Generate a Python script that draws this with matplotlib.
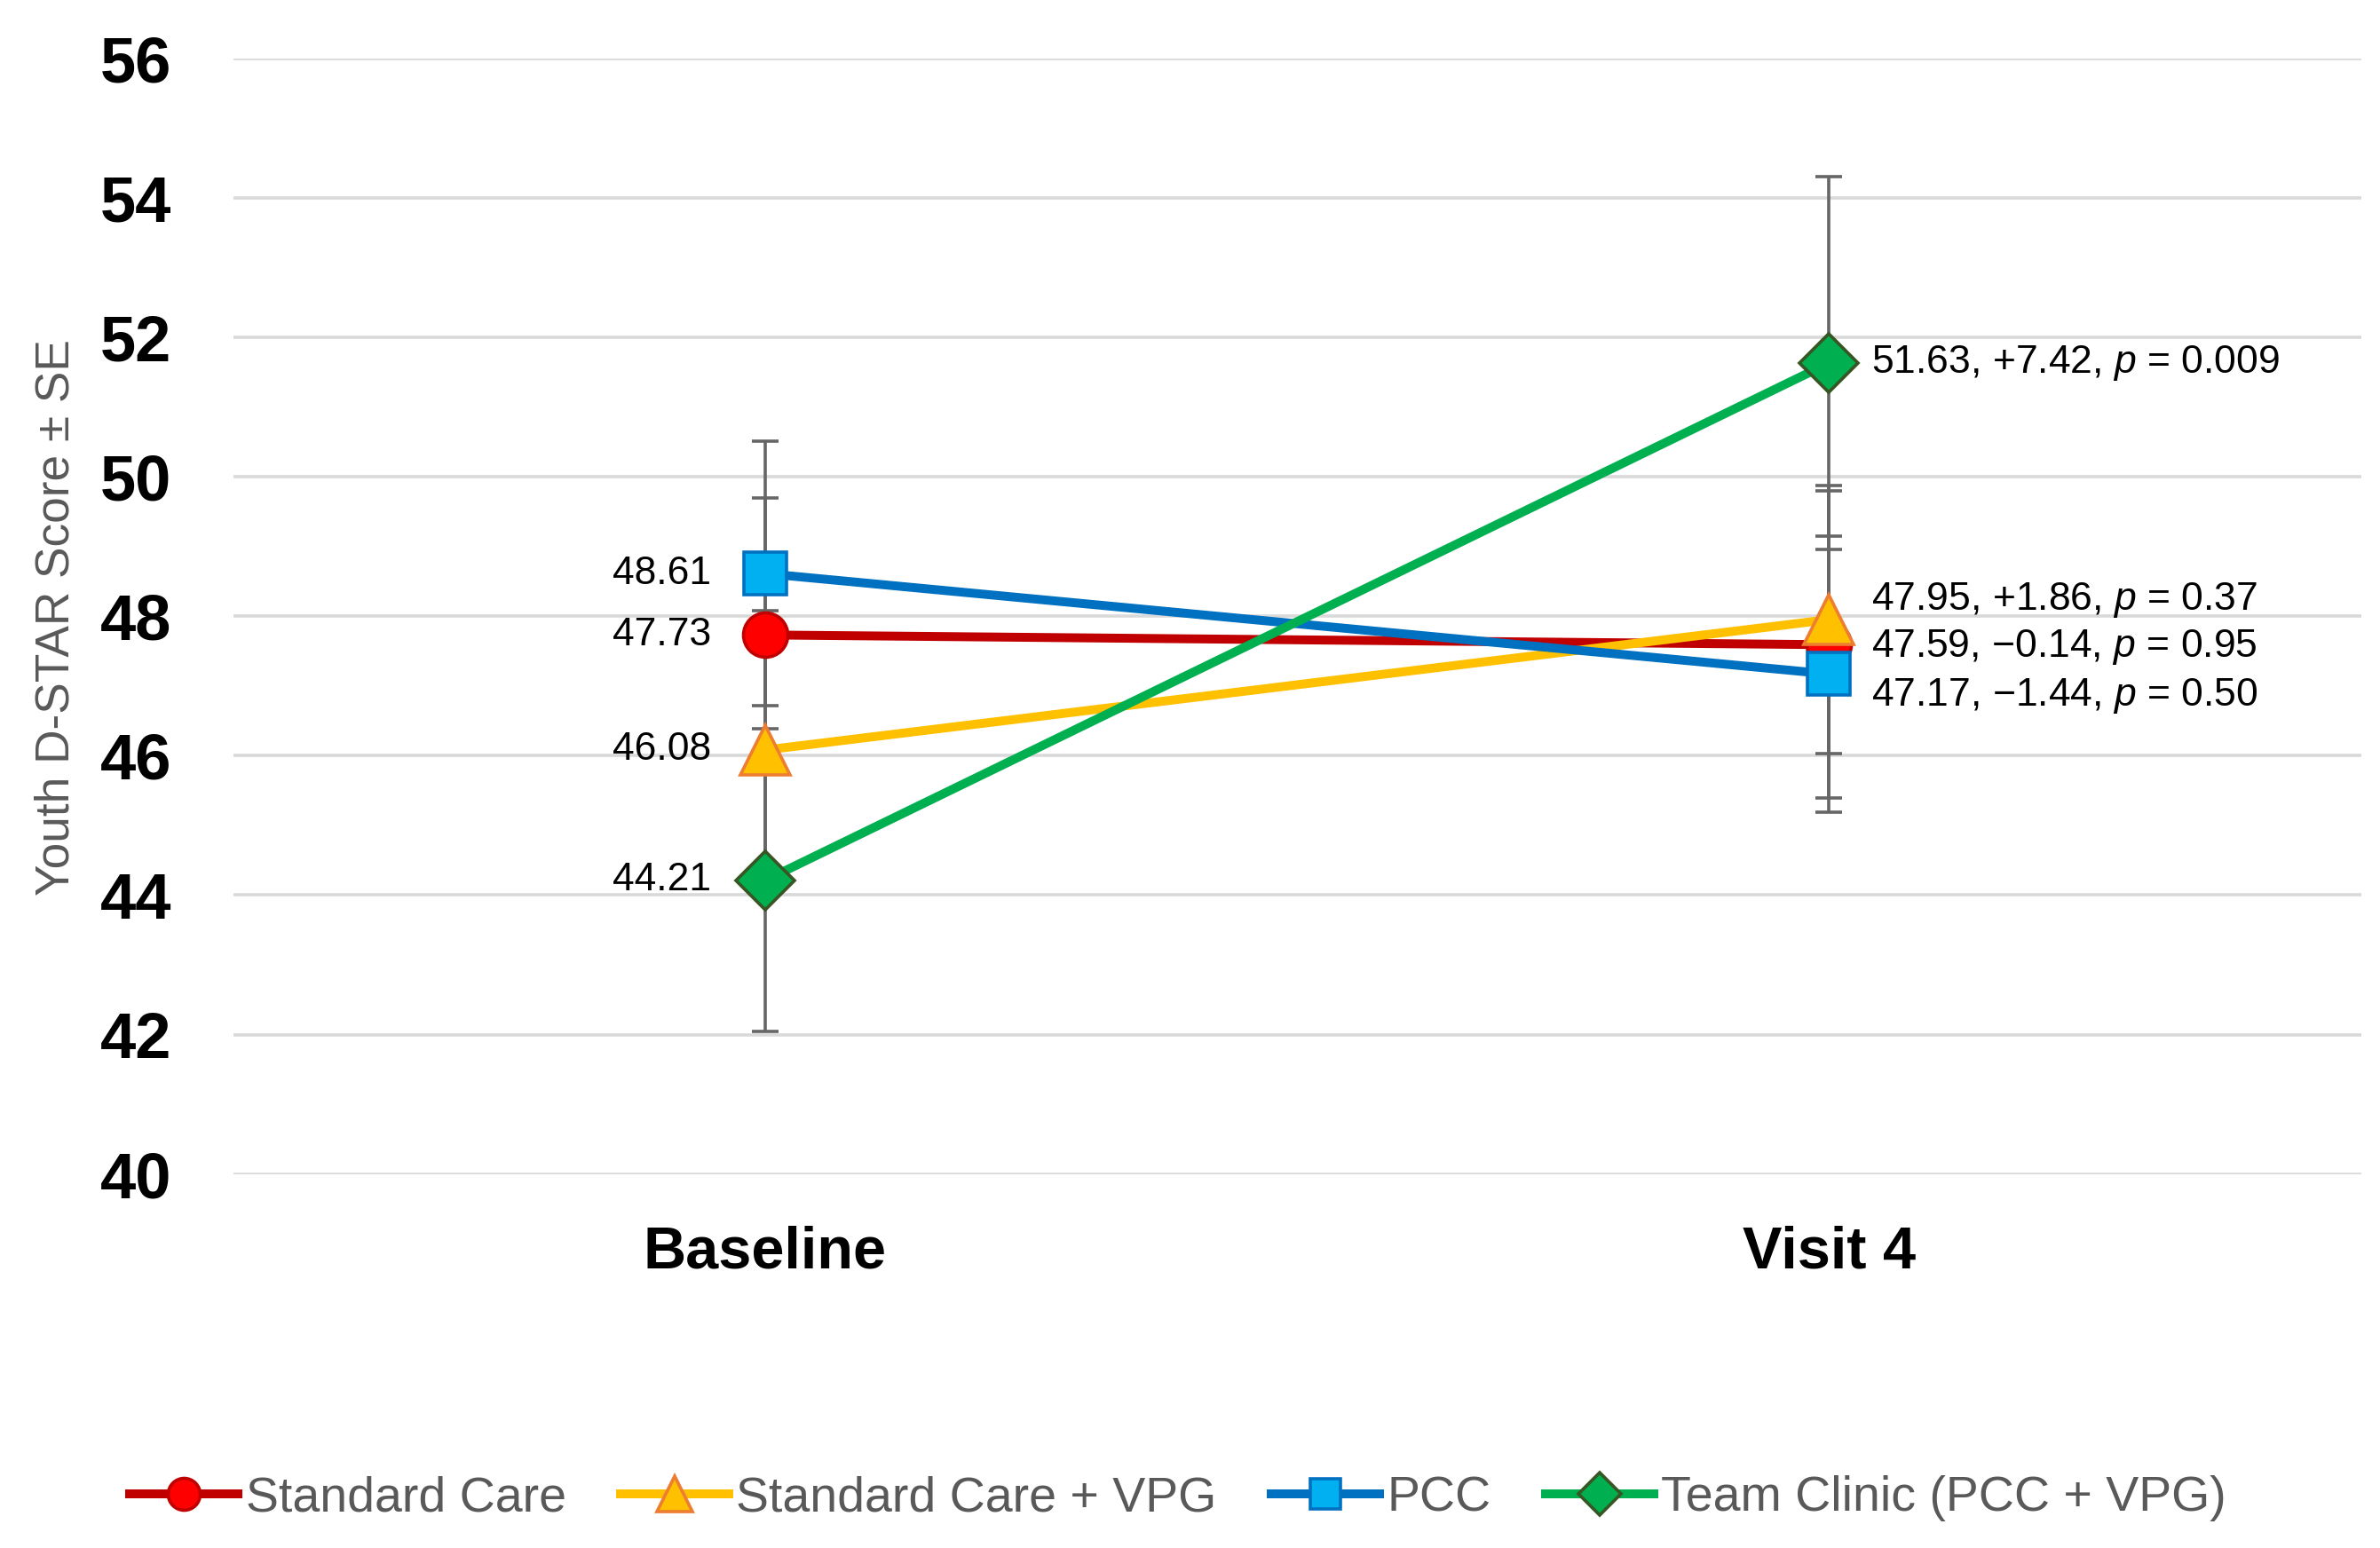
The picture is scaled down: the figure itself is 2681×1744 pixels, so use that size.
import matplotlib.pyplot as plt

plt.rcParams['font.family'] = ['Liberation Sans', 'DejaVu Sans']
plt.rcParams['mathtext.fontset'] = 'custom'
plt.rcParams['mathtext.it'] = 'Liberation Sans:italic'
plt.rcParams['mathtext.rm'] = 'Liberation Sans'

# data
visits = ['Baseline', 'Visit 4']
groups = ['Standard Care', 'Standard Care + VPG', 'PCC', 'Team Clinic (PCC + VPG)']
baseline = [47.73, 46.08, 48.61, 44.21]
visit4 = [47.59, 47.95, 47.17, 51.63]
se_baseline = [1.97, 2.00, 1.90, 2.17]
se_visit4 = [2.20, 1.92, 1.98, 2.67]
change = ['\u22120.14', '+1.86', '\u22121.44', '+7.42']
pvals = ['0.95', '0.37', '0.50', '0.009']

line_colors = ['#C00000', '#FFC000', '#0070C0', '#00B050']
face_colors = ['#FF0000', '#FFC000', '#00B0F0', '#00B050']
edge_colors = ['#C00000', '#ED7D31', '#0070C0', '#375623']
markers = ['o', '^', 's', 'D']
msizes = [18, 20, 17, 17]
# vertical offsets (points) for the visit 4 labels so they don't overlap
v4_offsets = [-1, 8, -9, 0]

fig = plt.figure(figsize=(13.405, 8.72), dpi=200)
ax = fig.add_axes([0.098, 0.2416, 0.894, 0.7208])

x = [0, 1]
for i in range(len(groups)):
    ax.errorbar(x, [baseline[i], visit4[i]], yerr=[se_baseline[i], se_visit4[i]],
                fmt='none', ecolor='#666666', elinewidth=1.3, capsize=5.5,
                capthick=1.3, zorder=2)

for i in range(len(groups)):
    ax.plot(x, [baseline[i], visit4[i]], color=line_colors[i], lw=3.6,
            marker=markers[i], markersize=msizes[i], markerfacecolor=face_colors[i],
            markeredgecolor=edge_colors[i], markeredgewidth=1.3,
            label=groups[i], zorder=3 + i)

for i in range(len(groups)):
    ax.annotate(f'{baseline[i]:.2f}', (0, baseline[i]), xytext=(-22, 0),
                textcoords='offset points', ha='right', va='center',
                fontsize=16, color='black')
    ax.annotate(f'{visit4[i]:.2f}, {change[i]}, $p$ = {pvals[i]}', (1, visit4[i]),
                xytext=(17, v4_offsets[i]), textcoords='offset points',
                ha='left', va='center', fontsize=16, color='black')

ax.set_xlim(-0.5, 1.5)
ax.set_ylim(40, 56)
ax.set_yticks(range(40, 57, 2))
ax.set_xticks(x)
ax.set_xticklabels(visits)
ax.tick_params(axis='y', length=0, pad=25, labelsize=26)
ax.tick_params(axis='x', length=0, pad=21, labelsize=24)
for lab in ax.get_xticklabels() + ax.get_yticklabels():
    lab.set_fontweight('bold')

ax.grid(axis='y', color='#D9D9D9', lw=1.3)
ax.set_axisbelow(True)
for s in ax.spines.values():
    s.set_visible(False)

fig.text(0.0235, 0.601, 'Youth D-STAR Score \u00b1 SE', rotation=90,
         ha='center', va='center', fontsize=19.2, color='#595959')

fig.legend(loc='center', bbox_to_anchor=(0.495, 0.032), ncol=4, frameon=False,
           fontsize=20, handlelength=2.2, handletextpad=0.15, columnspacing=1.1,
           markerscale=0.72, labelcolor='#595959')

fig.savefig('out.png', dpi=200)
